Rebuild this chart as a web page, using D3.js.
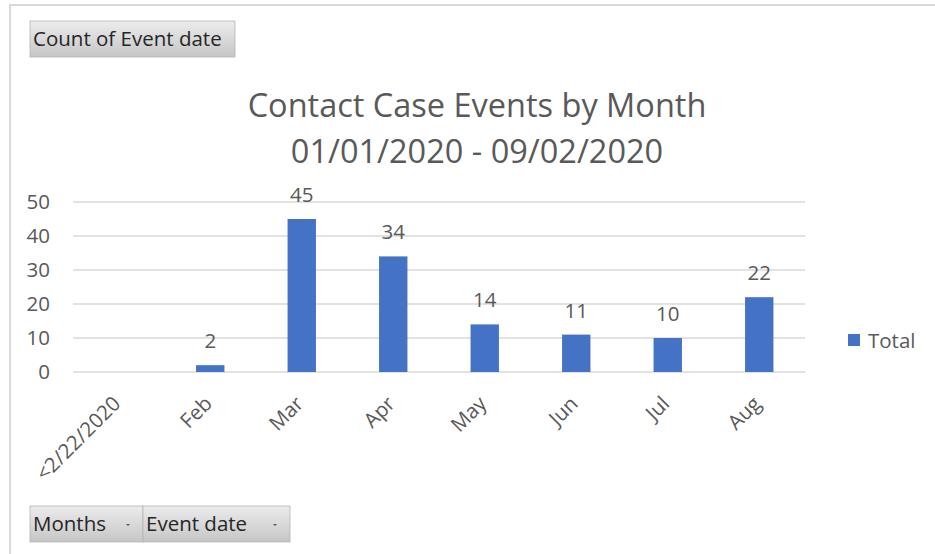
<!DOCTYPE html>
<html>
<head>
<meta charset="utf-8">
<script src="https://cdn.jsdelivr.net/npm/d3@7"></script>
<style>
  body { margin: 0; background: #fff; }
  svg text { font-family: "Open Sans", Lato, sans-serif; fill: #595959; }
</style>
</head>
<body>
<div id="main"></div>
<script>
const months = ['<2/22/2020', 'Feb', 'Mar', 'Apr', 'May', 'Jun', 'Jul', 'Aug'];
const totals = [null, 2, 45, 34, 14, 11, 10, 22];
const yTicks = [0, 10, 20, 30, 40, 50];
const titleLines = ['Contact Case Events by Month', '01/01/2020 - 09/02/2020'];
const seriesName = 'Total';

const W = 935, H = 554;
const margin = { top: 202, right: 130, bottom: 182, left: 73 };
const width = W - margin.left - margin.right;
const height = H - margin.top - margin.bottom;

const svg = d3.select('#main').append('svg')
  .attr('width', W)
  .attr('height', H);

const defs = svg.append('defs');
const grad = defs.append('linearGradient')
  .attr('id', 'btn').attr('x1', 0).attr('y1', 0).attr('x2', 0).attr('y2', 1);
grad.append('stop').attr('offset', '0%').attr('stop-color', '#ececec');
grad.append('stop').attr('offset', '100%').attr('stop-color', '#c6c6c6');

// outer frame (top + left edge)
svg.append('line').attr('x1', 9).attr('x2', W).attr('y1', 5).attr('y2', 5)
  .attr('stroke', '#d9d9d9').attr('stroke-width', 2);
svg.append('line').attr('x1', 10).attr('x2', 10).attr('y1', 5).attr('y2', H)
  .attr('stroke', '#d9d9d9').attr('stroke-width', 2);

function button(x, y, w, h, label, arrow) {
  const b = svg.append('g').attr('transform', 'translate(' + x + ',' + y + ')');
  b.append('rect').attr('width', w).attr('height', h)
    .attr('fill', 'url(#btn)').attr('stroke', '#b4b4b4').attr('stroke-width', 0.8);
  b.append('text').text(label)
    .attr('x', 3).attr('y', h / 2 + 7)
    .style('font-size', '20.5px').style('fill', '#262626');
  if (arrow) {
    b.append('path').attr('d', 'M' + (w - 17) + ',' + (h / 2) + 'h4l-2,2z')
      .attr('fill', '#555');
  }
}
button(30, 21, 205, 36, 'Count of Event date', false);
button(30, 506, 113, 36, 'Months', true);
button(143, 506, 147, 36, 'Event date', true);

// title
svg.append('g').selectAll('text')
  .data(titleLines)
  .enter().append('text')
  .attr('x', 477)
  .attr('y', (d, i) => 117 + i * 46)
  .attr('text-anchor', 'middle')
  .style('font-size', '32.5px')
  .text(d => d);

const g = svg.append('g')
  .attr('transform', 'translate(' + margin.left + ',' + margin.top + ')');

const x = d3.scaleBand()
  .domain(months)
  .range([0, width])
  .paddingInner(0.69)
  .paddingOuter(0.345);

const y = d3.scaleLinear()
  .domain([0, 50])
  .range([height, 0]);

// gridlines
g.selectAll('.grid')
  .data(yTicks)
  .enter().append('line')
  .attr('class', 'grid')
  .attr('x1', 0).attr('x2', width)
  .attr('y1', d => y(d)).attr('y2', d => y(d))
  .attr('stroke', '#d9d9d9').attr('stroke-width', 1.3);

// y axis labels
const yAxis = g.append('g')
  .call(d3.axisLeft(y).tickValues(yTicks).tickSize(0).tickPadding(23));
yAxis.select('.domain').remove();
yAxis.selectAll('text')
  .style('font-size', '20.5px')
  .attr('fill', '#595959');

// x axis labels
const xAxis = g.append('g')
  .attr('transform', 'translate(0,' + height + ')')
  .call(d3.axisBottom(x).tickSize(0).tickPadding(0));
xAxis.select('.domain').remove();
xAxis.selectAll('text')
  .style('font-size', '20.5px')
  .attr('fill', '#595959')
  .attr('text-anchor', 'end')
  .attr('dy', 0)
  .attr('transform', 'translate(3,33) rotate(-45)');

const bars = months.map((m, i) => ({ month: m, value: totals[i] }))
  .filter(d => d.value != null);

g.selectAll('.bar')
  .data(bars)
  .enter().append('rect')
  .attr('class', 'bar')
  .attr('x', d => x(d.month))
  .attr('width', x.bandwidth())
  .attr('y', d => y(d.value))
  .attr('height', d => height - y(d.value))
  .attr('fill', '#4472c4');

g.selectAll('.lbl')
  .data(bars)
  .enter().append('text')
  .attr('class', 'lbl')
  .attr('x', d => x(d.month) + x.bandwidth() / 2)
  .attr('y', d => y(d.value) - 17)
  .attr('text-anchor', 'middle')
  .style('font-size', '20.5px')
  .text(d => d.value);

// legend
const leg = svg.append('g').attr('transform', 'translate(848,334)');
leg.append('rect').attr('width', 12).attr('height', 12).attr('fill', '#4472c4');
leg.append('text').text(seriesName)
  .attr('x', 20).attr('y', 14)
  .style('font-size', '20.5px');
</script>
</body>
</html>
